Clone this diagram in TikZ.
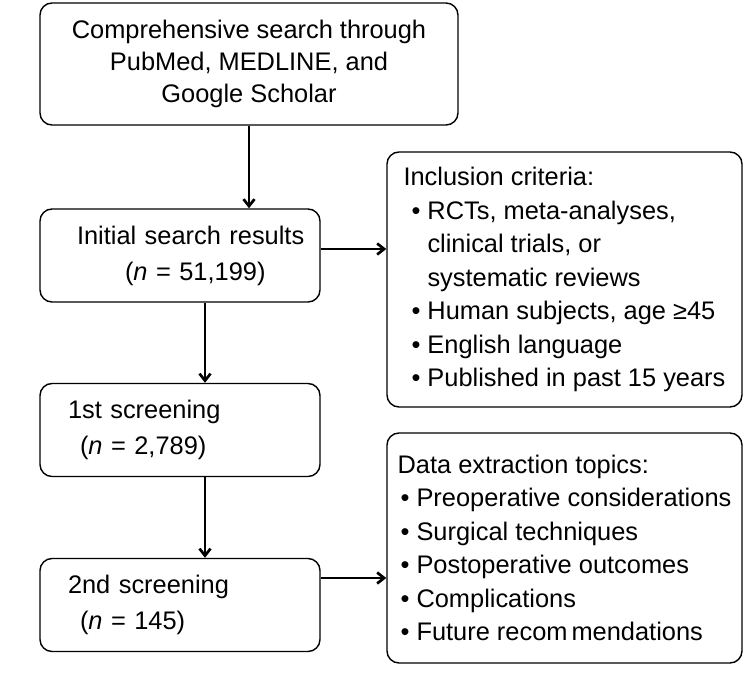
\documentclass[tikz,border=0pt]{standalone}
\usepackage{fontspec}
\setmainfont{Liberation Sans}
\usetikzlibrary{arrows.meta}
\newcommand{\bul}[1][8pt]{\hspace*{#1}\textbullet\ }
\newcommand{\bulcont}{\hspace*{8pt}\phantom{\textbullet\ }}

\begin{document}
\begin{tikzpicture}[x=1pt, y=-1pt,
      stage/.style={draw, line width=1.4pt, rounded corners=12pt, minimum height=93pt,
                    text width=260pt, inner xsep=10pt, align=left,
                    font=\fontsize{25.4}{36}\selectfont},
      listbox/.style={draw, line width=1.4pt, rounded corners=12pt, minimum width=355pt,
                      align=left, font=\fontsize{25.4}{33.5}\selectfont},
      arr/.style={-{Straight Barb[length=7pt,width=11pt]}, line width=2.7pt}
    ]
      \useasboundingbox (0,0) rectangle (750,676);

      \node[draw, line width=1.4pt, rounded corners=12pt, minimum width=418pt, minimum height=122pt,
            align=center, font=\fontsize{25.4}{32}\selectfont] (search) at (249,64) {
        Comprehensive search through\\PubMed, MEDLINE, and\\Google Scholar
      };
      \node[stage] (initial) at (180,255.5) {
        \hspace*{27pt}Initial search results\\\hspace*{75pt}(\textit{n} = 51,199)
      };
      \node[stage] (first) at (180,430) {
        \hspace*{18pt}1st screening\\\hspace*{30pt}(\textit{n} = 2,789)
      };
      \node[stage] (second) at (180,605) {
        \hspace*{18pt}2nd screening\\\hspace*{30pt}(\textit{n} = 145)
      };

      \node[listbox, minimum height=255pt] (criteria) at (564.5,279.5) {
        Inclusion criteria:\\
        \bul RCTs, meta-analyses,\\
        \bulcont clinical trials, or\\
        \bulcont systematic reviews\\
        \bul Human subjects, age ≥45\\
        \bul English language\\
        \bul Published in past 15 years
      };
      \node[listbox, minimum height=230pt] (topics) at (564.5,548) {
        Data extraction topics:\\
        \bul[3pt]Preoperative considerations\\
        \bul[3pt]Surgical techniques\\
        \bul[3pt]Postoperative outcomes\\
        \bul[3pt]Complications\\
        \bul[3pt]Future recom\hspace{4pt}mendations
      };

      \draw[arr] (search.south) -- (search.south |- initial.north);
      \draw[arr] ([xshift=25pt]initial.south) -- ([xshift=25pt]first.north);
      \draw[arr] ([xshift=25pt]first.south) -- ([xshift=25pt]second.north);
      \draw[arr] ([yshift=6.5pt]initial.east) coordinate (c1) -- (c1 -| criteria.west);
      \draw[arr] ([yshift=27pt]second.east) coordinate (c2) -- (c2 -| topics.west);
    \end{tikzpicture}
\end{document}
